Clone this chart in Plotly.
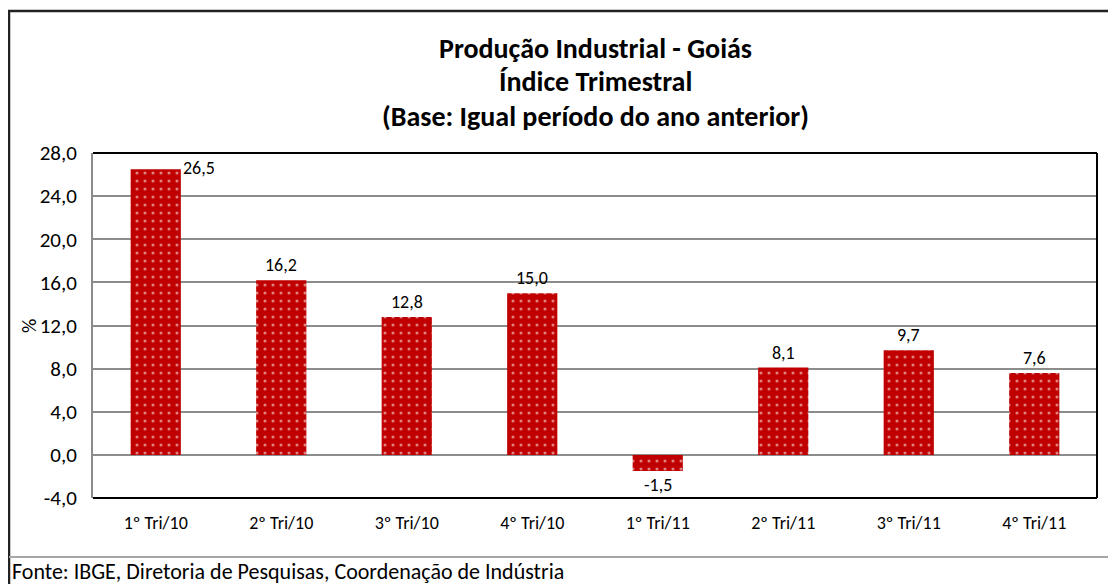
import plotly.graph_objects as go

categorias = ["1º Tri/10", "2º Tri/10", "3º Tri/10", "4º Tri/10",
              "1º Tri/11", "2º Tri/11", "3º Tri/11", "4º Tri/11"]
valores = [26.5, 16.2, 12.8, 15.0, -1.5, 8.1, 9.7, 7.6]
yticks = [-4, 0, 4, 8, 12, 16, 20, 24, 28]

titulo = ["Produção Industrial - Goiás", "Índice Trimestral",
          "(Base: Igual período do ano anterior)"]
fonte = "Fonte: IBGE, Diretoria de Pesquisas, Coordenação de Indústria"

FONT = "Carlito, Calibri, Lato, sans-serif"
RED = "#C00000"

# page has an 8px body margin, so figure pixels = page pixels - 8
OFF = 8
W, H = 1116, 584
L, R, T, B = 93 - OFF, 1097 - OFF, 153 - OFF, 498 - OFF
pw, ph = R - L, B - T


def px(x):
    return (x - OFF - L) / pw


def py(y):
    return (B - (y - OFF)) / ph


def fmt(v):
    return f"{v:.1f}".replace(".", ",")


fig = go.Figure(go.Bar(
    x=categorias,
    y=valores,
    width=0.4,
    marker=dict(
        color=RED,
        line=dict(width=0),
        pattern=dict(shape=".", fgcolor="white", bgcolor=RED,
                     size=8, solidity=0.12, fillmode="overlay"),
    ),
    hoverinfo="skip",
))

# data labels
for i, (c, v) in enumerate(zip(categorias, valores)):
    if i == 0:
        fig.add_annotation(x=c, y=v, text=fmt(v), showarrow=False,
                           xshift=43, yshift=1, yanchor="middle")
    elif v < 0:
        fig.add_annotation(x=c, y=v, text=fmt(v), showarrow=False,
                           yanchor="top", yshift=-1)
    else:
        fig.add_annotation(x=c, y=v, text=fmt(v), showarrow=False,
                           yanchor="bottom", yshift=2)

# title lines
for line, yy in zip(titulo, [48, 82, 117]):
    fig.add_annotation(xref="paper", yref="paper", x=0.5, y=py(yy),
                       text=f"<b>{line}</b>", showarrow=False,
                       yanchor="middle",
                       font=dict(size=28, family=FONT, color="black"))

# footer
fig.add_annotation(xref="paper", yref="paper", x=px(10), y=py(571),
                   text=fonte, showarrow=False, xanchor="left",
                   yanchor="middle",
                   font=dict(size=22, family=FONT, color="black"))

# y axis title
fig.add_annotation(xref="paper", yref="paper", x=px(15), y=py(326),
                   text="%", showarrow=False, textangle=-90,
                   font=dict(size=20, family=FONT, color="black"))

# outer frame, separator and plot-area borders
fig.add_shape(type="rect", xref="paper", yref="paper",
              x0=px(9), x1=px(1140), y0=py(620), y1=py(11),
              line=dict(color="#222222", width=2.5), layer="below")
fig.add_shape(type="line", xref="paper", yref="paper",
              x0=px(9), x1=px(1140), y0=py(557), y1=py(557),
              line=dict(color="#A6A6A6", width=2))
fig.add_shape(type="line", xref="paper", yref="paper",
              x0=1, x1=1, y0=0, y1=1,
              line=dict(color="black", width=2))
fig.add_shape(type="line", xref="paper", yref="paper",
              x0=0, x1=1, y0=1, y1=1,
              line=dict(color="black", width=2))
fig.add_shape(type="line", xref="paper", yref="paper",
              x0=0, x1=1, y0=0, y1=0,
              line=dict(color="black", width=2))

fig.update_layout(
    width=W, height=H,
    margin=dict(l=L, r=W - R, t=T, b=H - B),
    paper_bgcolor="white", plot_bgcolor="white",
    showlegend=False,
    font=dict(family=FONT, size=18, color="black"),
)
fig.update_xaxes(showgrid=False, ticks="outside", ticklen=8,
                 tickcolor="rgba(0,0,0,0)", showline=False,
                 tickfont=dict(size=18))
fig.update_yaxes(range=[-4, 28], tickvals=yticks,
                 ticktext=[fmt(t) for t in yticks],
                 showgrid=True, gridcolor="#8C8C8C", gridwidth=2,
                 zeroline=True, zerolinecolor="#8C8C8C", zerolinewidth=2,
                 showline=True, linecolor="#8C8C8C", linewidth=2,
                 ticks="outside", ticklen=10, tickcolor="rgba(0,0,0,0)",
                 tickfont=dict(size=21))

fig.write_html("out.html")
